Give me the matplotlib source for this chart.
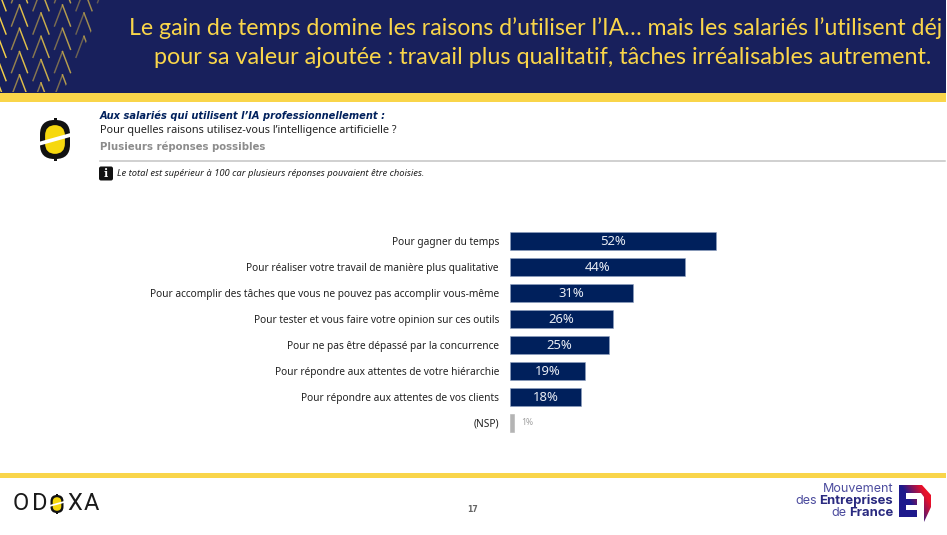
import numpy as np
import matplotlib
matplotlib.use("Agg")
import matplotlib.pyplot as plt
from matplotlib.patches import Rectangle, Polygon, FancyBboxPatch, PathPatch
from matplotlib.path import Path
from matplotlib.colors import LinearSegmentedColormap

categories = [
    "Pour gagner du temps",
    "Pour réaliser votre travail de manière plus qualitative",
    "Pour accomplir des tâches que vous ne pouvez pas accomplir vous-même",
    "Pour tester et vous faire votre opinion sur ces outils",
    "Pour ne pas être dépassé par la concurrence",
    "Pour répondre aux attentes de votre hiérarchie",
    "Pour répondre aux attentes de vos clients",
    "(NSP)",
]
values = [52, 44, 31, 26, 25, 19, 18, 1]
colors = ["#00205C"] * 7 + ["#B4B4B4"]
edges = ["#8FA0C0"] * 7 + ["#B4B4B4"]

W, H = 947, 535
NAVY, YEL = "#18205C", "#F9D54A"
fig = plt.figure(figsize=(W / 100, H / 100), dpi=100, facecolor="white")

# decoration layer in pixel coordinates
bg = fig.add_axes([0, 0, 946 / W, 1])
bg.set_xlim(0, 946); bg.set_ylim(H, 0); bg.axis("off")
bg.add_patch(Rectangle((0, 0), 946, 93, color=NAVY, lw=0))
bg.add_patch(Rectangle((0, 93), 946, 9, color=YEL, lw=0))
bg.add_patch(Rectangle((0, 473), 946, 5, color=YEL, lw=0))
bg.plot([100, 945], [160.5, 160.5], color="#C4C4C4", lw=1.1)

# herringbone pattern of the banner
clip = Polygon([(0, 0), (106, 0), (63, 92), (0, 92)], transform=bg.transData, fc="none", ec="none")
bg.add_patch(clip)
for i, cx in enumerate(np.arange(-2, 110, 21.5)):
    offset = 5 if i % 2 == 1 else 13
    for ay in np.arange(offset - 23.3, 92, 23.3):
        fade = min(1.0, max(0.55, 1 - cx / 220))
        l1, = bg.plot([cx, cx + 8], [ay, ay + 21], color="#F4CF48", lw=1.05, alpha=fade)
        l2, = bg.plot([cx, cx - 8], [ay, ay + 21], color="#C4A648", lw=1.05, alpha=0.8 * fade)
        l1.set_clip_path(clip); l2.set_clip_path(clip)

LAT = "Lato"
SANS = "Noto Sans"
bg.text(129, 28, "Le gain de temps domine les raisons d’utiliser l’IA… mais les salariés l’utilisent déj",
        color=YEL, fontsize=16.7, family=LAT, ha="left", va="center", clip_on=True)
bg.text(542.5, 57, "pour sa valeur ajoutée : travail plus qualitatif, tâches irréalisables autrement.",
        color=YEL, fontsize=16.8, family=LAT, ha="center", va="center", clip_on=True)

bg.text(100, 116, "Aux salariés qui utilisent l’IA professionnellement :", color="#00205C",
        fontsize=7.15, family="DejaVu Sans", weight="bold", style="italic", va="center")
bg.text(100, 131, "Pour quelles raisons utilisez-vous l’intelligence artificielle ?", color="#222222",
        fontsize=7.9, family=SANS, va="center")
bg.text(100, 147, "Plusieurs réponses possibles", color="#8C8C8C",
        fontsize=7.3, family="DejaVu Sans", weight="bold", va="center")
bg.add_patch(FancyBboxPatch((99, 166.5), 14, 14, boxstyle="round,pad=0,rounding_size=2", color="#111111", lw=0))
bg.text(106, 173.5, "i", color="white", fontsize=8, weight="bold", family="DejaVu Serif", ha="center", va="center")
bg.text(117, 174, "Le total est supérieur à 100 car plusieurs réponses pouvaient être choisies.",
        color="#222222", fontsize=6.75, family=SANS, style="italic", va="center")


def odoxa_icon(ax, x0, y0, w, h):
    """Black rounded badge, yellow core, white diagonal slash."""
    t = w * 0.17
    r = w * 0.48
    ax.add_patch(FancyBboxPatch((x0, y0), w, h, boxstyle=f"round,pad=0,rounding_size={r}", fc="#111111", lw=0, zorder=3))
    ax.add_patch(FancyBboxPatch((x0 + t, y0 + t), w - 2 * t, h - 2 * t,
                                boxstyle=f"round,pad=0,rounding_size={r * 0.72}", fc="#F6D80E", lw=0, zorder=3))
    cx, cy = x0 + w / 2, y0 + h / 2
    s = h * 0.05
    ax.add_patch(Polygon([(x0 - 1, cy + h * 0.11 + s), (x0 + w + 1, cy - h * 0.12 + s),
                          (x0 + w + 1, cy - h * 0.12 - s), (x0 - 1, cy + h * 0.11 - s)],
                         fc="white", ec="none", zorder=4))
    ax.add_patch(Rectangle((cx - w * 0.05, y0 - h * 0.04), w * 0.1, h * 1.08, fc="#111111", lw=0, zorder=2))


odoxa_icon(bg, 40, 120, 30, 39)

# footer
for cx_, ch in zip([21, 40, 75, 91], ["O", "D", "X", "A"]):
    bg.text(cx_, 504, ch, color="#1A1A1A", fontsize=17, family="Roboto", ha="center", va="center")
odoxa_icon(bg, 50.5, 495, 13, 18)
bg.text(473, 509, "17", color="#666666", fontsize=5.6, family="DejaVu Sans", weight="bold", ha="center", va="center")

MED, MEDB = "#4C4C9E", "#2A2A80"
bg.text(893, 489, "Mouvement", color=MED, fontsize=9, family="Inter", ha="right", va="center")
bg.text(893, 501, "Entreprises", color=MEDB, fontsize=9.4, family="Inter", weight="bold", ha="right", va="center")
bg.text(817, 501, "des", color=MED, fontsize=9, family="Inter", ha="right", va="center")
bg.text(893, 513, "France", color=MEDB, fontsize=9.4, family="Inter", weight="bold", ha="right", va="center")
bg.text(846, 513, "de", color=MED, fontsize=9, family="Inter", ha="right", va="center")

# E mark with a navy-to-red gradient
grad = LinearSegmentedColormap.from_list("e", [(0, "#1E1A8C"), (0.4, "#1E1A8C"), (0.85, "#E8102A"), (1, "#E8102A")])
xx, yy = np.meshgrid(np.linspace(0, 1, 64), np.linspace(0, 1, 64))
im = bg.imshow(0.75 * xx + 0.45 * (1 - yy) - 0.1, cmap=grad, vmin=0, vmax=1, extent=(899, 932, 523, 485),
               aspect="auto", zorder=2)
verts, codes = [], []
for poly in ([(899, 485), (922, 485), (931, 495), (931, 507), (924, 522), (924, 497), (921, 493), (899, 493)],
             [(899, 493), (906, 493), (906, 517), (899, 517)],
             [(899, 499), (917, 499), (917, 505), (899, 505)],
             [(899, 510), (917, 510), (917, 517), (899, 517)]):
    verts += poly + [poly[0]]
    codes += [Path.MOVETO] + [Path.LINETO] * (len(poly) - 1) + [Path.CLOSEPOLY]
e_patch = PathPatch(Path(verts, codes), transform=bg.transData, fc="none", ec="none")
bg.add_patch(e_patch)
im.set_clip_path(e_patch)
bg.set_xlim(0, 946); bg.set_ylim(H, 0)

# bar chart (plot area: x 510 .. 906 px, y 227.5 .. 436 px)
left, right, top, bottom = 510, 906, 227.5, 436
ax = fig.add_axes([left / W, 1 - bottom / H, (right - left) / W, (bottom - top) / H])
ax.patch.set_alpha(0)
y = np.arange(len(categories))
ax.barh(y, values, height=0.69, color=colors, edgecolor=edges, linewidth=0.4)
ax.set_xlim(0, (right - left) / 3.97)
ax.set_ylim(len(categories) - 0.5, -0.5)
for s in ax.spines.values():
    s.set_visible(False)
ax.xaxis.set_visible(False)
ax.set_yticks(y, categories)
ax.tick_params(axis="y", length=0, pad=8, labelsize=7.3, labelcolor="#222222")
for lab in ax.get_yticklabels():
    lab.set_family(SANS)
for yi, v in zip(y, values):
    if v > 1:
        ax.text(v / 2, yi + 0.02, f"{v}%", color="#E8ECF4", fontsize=9.4, family=SANS, ha="center", va="center")
    else:
        ax.text(v + 1.7, yi, f"{v}%", color="#A0A0A0", fontsize=6.2, family=SANS, ha="left", va="center")

fig.savefig("out.png", dpi=100, facecolor="white")
